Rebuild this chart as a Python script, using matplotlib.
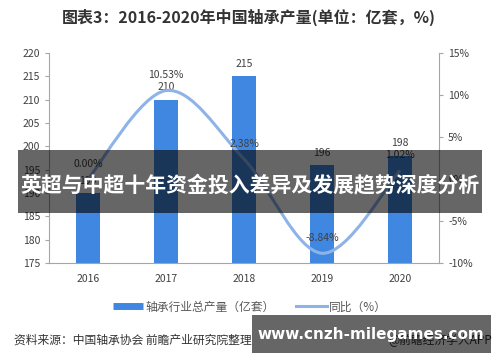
import numpy as np
import matplotlib
matplotlib.use('Agg')
import matplotlib.pyplot as plt
from matplotlib.path import Path
from matplotlib.patches import PathPatch, Rectangle
from matplotlib.lines import Line2D

plt.rcParams['font.family'] = ['Noto Sans CJK SC', 'DejaVu Sans']

years = ['2016', '2017', '2018', '2019', '2020']
output = [190, 210, 215, 196, 198]          # 亿套
growth = [0.00, 10.53, 2.38, -8.84, 1.02]   # %
growth_labels = ['0.00%', '10.53%', '2.38%', '-8.84%', '1.02%']

bar_color = '#3f87e0'
line_color = '#8eb3e8'
txt = '#404040'

fig = plt.figure(figsize=(5, 3.62), dpi=100)
ax = fig.add_axes([0.098, 0.2735, 0.78, 0.58])
ax2 = ax.twinx()

x = np.arange(len(years))
ax.bar(x, output, width=0.31, color=bar_color, zorder=2)
ax.set_ylim(175, 220)
ax.set_yticks(range(175, 221, 5))
ax.set_xlim(-0.5, 4.5)
ax.set_xticks(x)
ax.set_xticklabels(years)

ax2.set_ylim(-10, 15)
ax2.set_yticks([-10, -5, 0, 5, 10, 15])
ax2.set_yticklabels([f'{v}%' for v in [-10, -5, 0, 5, 10, 15]])

# smoothed line (catmull-rom -> bezier) through the growth values
px = np.concatenate([[x[0]], x, [x[-1]]]).astype(float)
py = np.concatenate([[growth[0]], growth, [growth[-1]]])
verts = [(x[0], growth[0])]
codes = [Path.MOVETO]
for i in range(1, len(px) - 2):
    c1 = (px[i] + (px[i + 1] - px[i - 1]) / 6, py[i] + (py[i + 1] - py[i - 1]) / 6)
    c2 = (px[i + 1] - (px[i + 2] - px[i]) / 6, py[i + 1] - (py[i + 2] - py[i]) / 6)
    verts += [c1, c2, (px[i + 1], py[i + 1])]
    codes += [Path.CURVE4] * 3
ax2.add_patch(PathPatch(Path(verts, codes), facecolor='none', edgecolor=line_color,
                        lw=2.2, zorder=3))

for i in range(len(years)):
    ax.annotate(str(output[i]), (x[i], output[i]), xytext=(0, 9), textcoords='offset points',
                ha='center', va='center', fontsize=7.5, color=txt)
    ax2.annotate(growth_labels[i], (x[i], growth[i]), xytext=(0, 11), textcoords='offset points',
                 ha='center', va='center', fontsize=7.5, color=txt)

for a in (ax, ax2):
    a.spines['top'].set_visible(False)
    for s in ('left', 'right', 'bottom'):
        a.spines[s].set_color('#a6a6a6')
    a.tick_params(labelsize=7.5, colors=txt, length=3, color='#a6a6a6')
ax.spines['right'].set_visible(False)
ax2.spines['left'].set_visible(False)
ax2.spines['bottom'].set_visible(False)
ax.tick_params(axis='x', length=0, pad=8)

# title
fig.text(0.497, 1 - 17 / 362, '图表3：2016-2020年中国轴承产量(单位：亿套，%)', ha='center', va='center',
         fontsize=11.5, fontweight='bold', color='#333333')

# legend
handles = [Line2D([], [], color=bar_color, lw=5, solid_capstyle='butt'),
           Line2D([], [], color=line_color, lw=2.2)]
fig.legend(handles, ['轴承行业总产量（亿套）', '同比（%）'], loc='center', ncol=2,
           bbox_to_anchor=(0.5, 1 - 307 / 362), frameon=False, fontsize=8.5,
           handlelength=2.6, handletextpad=0.2, columnspacing=1.8, labelcolor='#595959')

# source line
fig.text(14 / 500, 1 - 340 / 362, '资料来源：中国轴承协会 前瞻产业研究院整理', ha='left', va='center',
         fontsize=8.5, color='#333333')
fig.text(492 / 500, 1 - 340 / 362, '@前瞻经济学人APP', ha='right', va='center',
         fontsize=8.5, color='#333333')

# overlay banners
fig.patches.append(Rectangle((18 / 500, 1 - 213 / 362), 464 / 500, 63 / 362, transform=fig.transFigure,
                             facecolor='black', alpha=0.6, zorder=10))
fig.text(0.5, 1 - 185 / 362, '英超与中超十年资金投入差异及发展趋势深度分析', ha='center', va='center',
         fontsize=15, fontweight='bold', color='white', zorder=11)
fig.patches.append(Rectangle((252 / 500, 1 - 353 / 362), 239 / 500, 38 / 362, transform=fig.transFigure,
                             facecolor='black', alpha=0.6, zorder=10))
fig.text(371 / 500, 1 - 334 / 362, 'www.cnzh-milegames.com', ha='center', va='center',
         fontsize=11, fontweight='bold', color='white', zorder=11, family='DejaVu Sans')

fig.savefig('out.png', dpi=100)
